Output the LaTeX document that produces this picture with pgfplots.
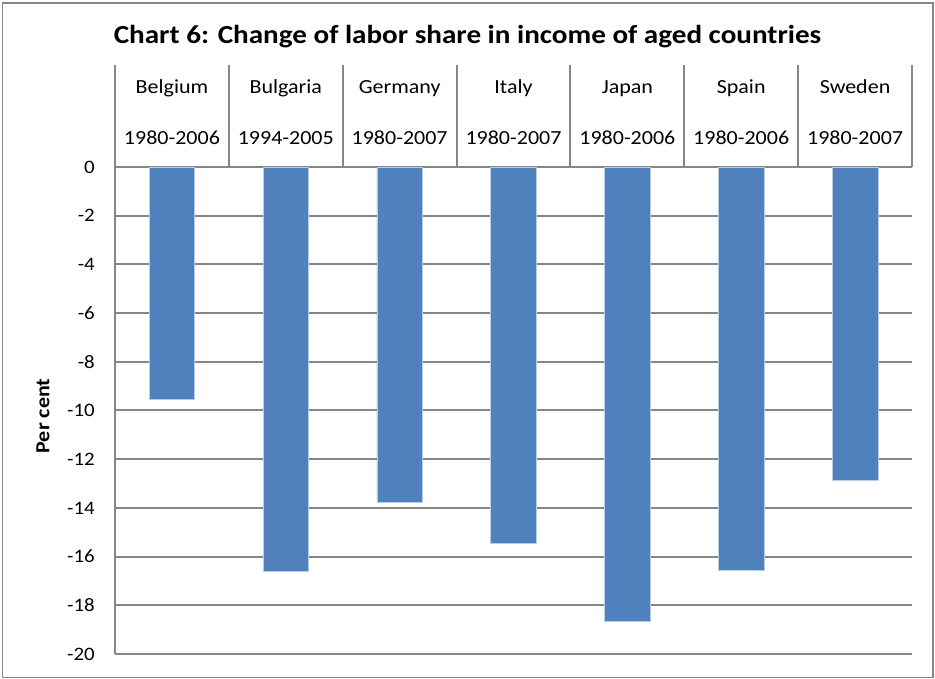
\documentclass[border=0pt]{standalone}
\usepackage{pgfplots}
\pgfplotsset{compat=1.18}
\usepackage{fontspec}
\setmainfont[FakeStretch=1.1]{Carlito}
\newfontfamily\titlefont[FakeStretch=1.12]{Carlito}
\definecolor{barblue}{HTML}{4F81BD}
\definecolor{linegray}{HTML}{868686}
\begin{document}
\begin{tikzpicture}[x=1pt,y=1pt]
\useasboundingbox (-115,-25) rectangle (820,654);
\draw[linegray, line width=1.6pt] (-112.5,-23.5) rectangle (818,651);
\begin{axis}[
  at={(0,0)}, anchor=south west,
  scale only axis, width=797pt, height=487pt,
  xmin=0.5, xmax=7.5, ymin=-20, ymax=0,
  axis x line=top, axis y line=left,
  axis line style={-, linegray, line width=2pt},
  xtick={1,...,7},
  xticklabels={{Belgium\\[28pt]1980-2006},{Bulgaria\\[28pt]1994-2005},{Germany\\[28pt]1980-2007},{Italy\\[28pt]1980-2007},{Japan\\[28pt]1980-2006},{Spain\\[28pt]1980-2006},{Sweden\\[28pt]1980-2007}},
  xticklabel style={align=center, anchor=south, inner sep=0pt, yshift=22pt, font=\fontsize{20}{23}\selectfont},
  ytick={-20,-18,...,0},
  yticklabels={-20,-18,-16,-14,-12,-10,-8,-6,-4,-2,0},
  yticklabel style={anchor=east, inner sep=0pt, xshift=-20pt, font=\fontsize{19}{23}\selectfont},
  tick style={draw=none},
  major tick length=0pt,
  ymajorgrids,
  grid style={linegray, line width=2pt},
  clip=false,
]
\addplot[ybar, bar width=0.4, fill=barblue, draw={rgb,255:red,185;green,205;blue,229}, line width=0.6pt] coordinates {
  (1,-9.55) (2,-16.6) (3,-13.75) (4,-15.45) (5,-18.65) (6,-16.55) (7,-12.85)
};
\pgfplotsinvokeforeach{0.5,1.5,...,7.5}{
  \draw[linegray, line width=2pt] (axis cs:#1,0) -- ++(0pt,102pt);
}
\end{axis}
\node[rotate=90, font=\bfseries\fontsize{20}{24}\selectfont] at (-72,238) {Per cent};
\node[font=\titlefont\bfseries\fontsize{26}{30}\selectfont] at (352.5,617) {Chart 6: Change of labor share in income of aged countries};
\end{tikzpicture}
\end{document}
